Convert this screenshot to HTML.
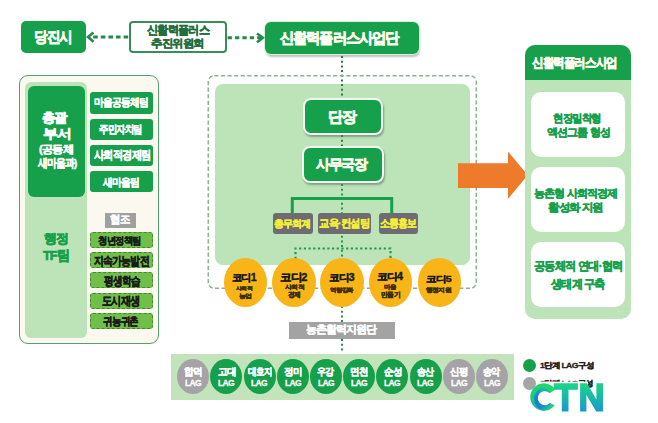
<!DOCTYPE html>
<html><head><meta charset="utf-8">
<style>
*{margin:0;padding:0;box-sizing:border-box}
html,body{width:658px;height:423px;overflow:hidden;background:#fff}
body{position:relative;font-family:"Liberation Sans",sans-serif}
.a{position:absolute}
</style></head><body>
<div class="a" style="left:21px;top:21px;width:64.5px;height:32px;border-radius:5px;background:#16a04b"></div>
<div class="a" style="left:128.5px;top:21.2px;width:98.3px;height:31.6px;border:2px solid #3a8d58;border-radius:4px;background:#fff"></div>
<div class="a" style="left:265px;top:22.3px;width:154px;height:31.5px;border-radius:6px;background:#16a04b;box-shadow:0 0 0 1px #d8f0dc,1px 3px 2px rgba(0,0,0,0.25)"></div>
<svg class="a" style="left:0;top:0" width="658" height="423">
  <line x1="93.2" y1="37" x2="128.5" y2="37" stroke="#238a4c" stroke-width="3" stroke-dasharray="4.6 3"/>
  <polyline points="93.5,32.5 88,37 93.5,41.8" fill="none" stroke="#238a4c" stroke-width="2.6"/>
  <line x1="227.6" y1="37.8" x2="262" y2="37.8" stroke="#238a4c" stroke-width="3" stroke-dasharray="4.3 3.1"/>
  <polyline points="257,33.5 262.8,37.8 257,42.3" fill="none" stroke="#238a4c" stroke-width="2.6"/>
  <line x1="342" y1="56" x2="342" y2="98" stroke="#2f6f4f" stroke-width="2" stroke-dasharray="2 2.7"/>
</svg>
<div class="a" style="left:18.5px;top:74.5px;width:140.8px;height:269px;border:1.5px solid #52a06a;border-radius:9px;background:#faf8ef"></div>
<div class="a" style="left:25px;top:82px;width:62px;height:256px;border-radius:6px;background:#bde3b8"></div>
<div class="a" style="left:28px;top:86px;width:57px;height:111px;border-radius:6px;background:#16a04b"></div>
<div class="a" style="left:90px;top:92.3px;width:62.5px;height:21.5px;border-radius:3px;background:#16a04b"></div>
<div class="a" style="left:90px;top:119px;width:62.5px;height:20.8px;border-radius:3px;background:#16a04b"></div>
<div class="a" style="left:90px;top:144.5px;width:62.5px;height:21.3px;border-radius:3px;background:#16a04b"></div>
<div class="a" style="left:90px;top:171px;width:62.5px;height:20.8px;border-radius:3px;background:#16a04b"></div>
<div class="a" style="left:104.6px;top:212.6px;width:31.3px;height:15.2px;background:#a0a0a0"></div>
<div class="a" style="left:89.5px;top:232.2px;width:63px;height:15.8px;border:1px dashed #3f8a2c;border-radius:3px;background:#70bf4a"></div>
<div class="a" style="left:89.5px;top:252.2px;width:63px;height:15.8px;border:1px dashed #3f8a2c;border-radius:3px;background:#70bf4a"></div>
<div class="a" style="left:89.5px;top:272.4px;width:63px;height:15.8px;border:1px dashed #3f8a2c;border-radius:3px;background:#70bf4a"></div>
<div class="a" style="left:89.5px;top:292.8px;width:63px;height:15.8px;border:1px dashed #3f8a2c;border-radius:3px;background:#70bf4a"></div>
<div class="a" style="left:89.5px;top:313.2px;width:63px;height:15.8px;border:1px dashed #3f8a2c;border-radius:3px;background:#70bf4a"></div>
<svg class="a" style="left:0;top:0" width="658" height="423"><rect x="208.3" y="75.8" width="268" height="212.5" rx="6" fill="none" stroke="#8db492" stroke-width="1.6" stroke-dasharray="4.2 2.4"/></svg>
<div class="a" style="left:214.5px;top:84px;width:255.5px;height:181px;border-radius:8px;background:#bde3b8"></div>
<div class="a" style="left:302.5px;top:98px;width:80.5px;height:36.5px;border:2.3px solid #f4fbf2;border-radius:8px;background:#16a04b;box-shadow:1px 2px 2px rgba(0,0,0,0.3)"></div>
<div class="a" style="left:301.6px;top:145.7px;width:82px;height:37.3px;border:2.3px solid #f4fbf2;border-radius:8px;background:#16a04b;box-shadow:1px 2px 2px rgba(0,0,0,0.3)"></div>
<svg class="a" style="left:0;top:0" width="658" height="423">
  <line x1="342" y1="84" x2="342" y2="98" stroke="#2f7a4f" stroke-width="2" stroke-dasharray="2 2.7"/>
  <line x1="342" y1="135" x2="342" y2="146" stroke="#2f7a4f" stroke-width="2" stroke-dasharray="2 2.7"/>
  <line x1="342" y1="184" x2="342" y2="258" stroke="#1e9a48" stroke-width="2" stroke-dasharray="2 2.7"/>
  <polyline points="292.3,213 292.3,198.5 391.7,198.5 391.7,213" fill="none" stroke="#16a04b" stroke-width="3"/>
  <polyline points="295.5,259 295.5,248.5 390.5,248.5 390.5,259" fill="none" stroke="#1e9a48" stroke-width="2.2" stroke-dasharray="2.2 2.5"/>
  <line x1="342" y1="306" x2="342" y2="322" stroke="#2e8a5a" stroke-width="2" stroke-dasharray="2 2.7"/>
  <line x1="342" y1="339" x2="342" y2="353" stroke="#2e8a5a" stroke-width="2" stroke-dasharray="2 2.7"/>
</svg>
<div class="a" style="left:273.3px;top:213.4px;width:39.7px;height:20.5px;background:#6f6b72;border-radius:3px"></div>
<div class="a" style="left:318.2px;top:213.4px;width:52.6px;height:20.5px;background:#6f6b72;border-radius:3px"></div>
<div class="a" style="left:378.5px;top:213.4px;width:39.4px;height:20.5px;background:#6f6b72;border-radius:3px"></div>
<div class="a" style="left:224.2px;top:257.8px;width:43.0px;height:48.9px;border-radius:50%;background:#f9b417"></div>
<div class="a" style="left:272px;top:257.8px;width:43.8px;height:48.9px;border-radius:50%;background:#f9b417"></div>
<div class="a" style="left:320.2px;top:257.8px;width:44.1px;height:48.9px;border-radius:50%;background:#f9b417"></div>
<div class="a" style="left:369.1px;top:257.8px;width:43.4px;height:48.9px;border-radius:50%;background:#f9b417"></div>
<div class="a" style="left:417.5px;top:257.8px;width:43.7px;height:48.9px;border-radius:50%;background:#f9b417"></div>
<svg class="a" style="left:0;top:0" width="658" height="423">
  <polygon points="458,163.2 508,163.2 508,151.6 527.8,175.2 508,198.8 508,188 458,188" fill="#ee7b2c"/>
</svg>
<div class="a" style="left:525px;top:45px;width:105.7px;height:274px;border-radius:10px;overflow:hidden;background:#bde3b8"><div style="height:35px;background:#16a04b"></div></div>
<div class="a" style="left:530.5px;top:92px;width:94px;height:65.4px;background:#fff;border-radius:10px"></div>
<div class="a" style="left:530.5px;top:167.3px;width:94px;height:64.4px;background:#fff;border-radius:10px"></div>
<div class="a" style="left:530.5px;top:242px;width:94px;height:65.0px;background:#fff;border-radius:10px"></div>
<div class="a" style="left:289.4px;top:321.7px;width:106px;height:17px;background:#a3a3a3"></div>
<div class="a" style="left:170.8px;top:353.5px;width:343.7px;height:46.5px;background:#c3e4bb"></div>
<div class="a" style="left:177.2px;top:359.3px;width:32px;height:35px;border-radius:50%;background:#a5a3a7"></div>
<div class="a" style="left:210.4px;top:359.3px;width:32px;height:35px;border-radius:50%;background:#16a04b"></div>
<div class="a" style="left:243.6px;top:359.3px;width:32px;height:35px;border-radius:50%;background:#16a04b"></div>
<div class="a" style="left:276.8px;top:359.3px;width:32px;height:35px;border-radius:50%;background:#16a04b"></div>
<div class="a" style="left:310.0px;top:359.3px;width:32px;height:35px;border-radius:50%;background:#16a04b"></div>
<div class="a" style="left:343.2px;top:359.3px;width:32px;height:35px;border-radius:50%;background:#16a04b"></div>
<div class="a" style="left:376.4px;top:359.3px;width:32px;height:35px;border-radius:50%;background:#16a04b"></div>
<div class="a" style="left:409.6px;top:359.3px;width:32px;height:35px;border-radius:50%;background:#16a04b"></div>
<div class="a" style="left:442.8px;top:359.3px;width:32px;height:35px;border-radius:50%;background:#a5a3a7"></div>
<div class="a" style="left:476.0px;top:359.3px;width:32px;height:35px;border-radius:50%;background:#a5a3a7"></div>
<div class="a" style="left:522.8px;top:359.2px;width:13px;height:13px;border-radius:50%;background:#16a04b"></div>
<div class="a" style="left:522.8px;top:377.4px;width:13px;height:13px;border-radius:50%;background:#a5a5a5"></div>
<div style="position:absolute;white-space:nowrap;font-family:'Liberation Sans',sans-serif;font-weight:bold;font-size:14.845px;line-height:1;-webkit-text-stroke:0.72px currentColor;letter-spacing:-0.08em;transform-origin:0 0;transform:scaleX(0.9075);left:33.92px;top:30.41px;color:#fdfdf0">당진시</div>
<div style="position:absolute;white-space:nowrap;font-family:'Liberation Sans',sans-serif;font-weight:bold;font-size:11.667px;line-height:1;-webkit-text-stroke:0.448px currentColor;letter-spacing:-0.08em;transform-origin:0 0;transform:scaleX(0.9324);left:147.30px;top:24.38px;color:#256d3e">신활력플러스</div>
<div style="position:absolute;white-space:nowrap;font-family:'Liberation Sans',sans-serif;font-weight:bold;font-size:11.146px;line-height:1;-webkit-text-stroke:0.428px currentColor;letter-spacing:-0.08em;transform-origin:0 0;transform:scaleX(1.0392);left:151.18px;top:37.62px;color:#256d3e">추진위원회</div>
<div style="position:absolute;white-space:nowrap;font-family:'Liberation Sans',sans-serif;font-weight:bold;font-size:15.408px;line-height:1;-webkit-text-stroke:0.755px currentColor;letter-spacing:-0.08em;transform-origin:0 0;transform:scaleX(0.9541);left:280.45px;top:30.38px;color:#fdfdf0">신활력플러스사업단</div>
<div style="position:absolute;white-space:nowrap;font-family:'Liberation Sans',sans-serif;font-weight:bold;font-size:13.469px;line-height:1;-webkit-text-stroke:0.66px currentColor;letter-spacing:-0.08em;transform-origin:0 0;transform:scaleX(1.0301);left:42.28px;top:111.49px;color:#fff">총괄</div>
<div style="position:absolute;white-space:nowrap;font-family:'Liberation Sans',sans-serif;font-weight:bold;font-size:12.577px;line-height:1;-webkit-text-stroke:0.61px currentColor;letter-spacing:-0.08em;transform-origin:0 0;transform:scaleX(1.1480);left:43.07px;top:127.65px;color:#fff">부서</div>
<div style="position:absolute;white-space:nowrap;font-family:'Liberation Sans',sans-serif;font-weight:bold;font-size:11.287px;line-height:1;-webkit-text-stroke:0.456px currentColor;letter-spacing:-0.08em;transform-origin:0 0;transform:scaleX(1.0211);left:38.65px;top:143.61px;color:#fff">(공동체</div>
<div style="position:absolute;white-space:nowrap;font-family:'Liberation Sans',sans-serif;font-weight:bold;font-size:11.782px;line-height:1;-webkit-text-stroke:0.476px currentColor;letter-spacing:-0.08em;transform-origin:0 0;transform:scaleX(0.8150);left:37.98px;top:156.88px;color:#fff">새마을과)</div>
<div style="position:absolute;white-space:nowrap;font-family:'Liberation Sans',sans-serif;font-weight:bold;font-size:13.093px;line-height:1;-webkit-text-stroke:0.635px currentColor;letter-spacing:-0.08em;transform-origin:0 0;transform:scaleX(0.9985);left:43.54px;top:231.91px;color:#16a04b">행정</div>
<div style="position:absolute;white-space:nowrap;font-family:'Liberation Sans',sans-serif;font-weight:bold;font-size:13.571px;line-height:1;-webkit-text-stroke:0.665px currentColor;letter-spacing:-0.08em;transform-origin:0 0;transform:scaleX(0.9398);left:43.43px;top:249.19px;color:#16a04b">TF팀</div>
<div style="position:absolute;white-space:nowrap;font-family:'Liberation Sans',sans-serif;font-weight:bold;font-size:11.146px;line-height:1;-webkit-text-stroke:0.428px currentColor;letter-spacing:-0.08em;transform-origin:0 0;transform:scaleX(0.8856);left:93.91px;top:97.42px;color:#fff">마을공동체팀</div>
<div style="position:absolute;white-space:nowrap;font-family:'Liberation Sans',sans-serif;font-weight:bold;font-size:11.458px;line-height:1;-webkit-text-stroke:0.44px currentColor;letter-spacing:-0.08em;transform-origin:0 0;transform:scaleX(0.8497);left:99.31px;top:124.20px;color:#fff">주민자치팀</div>
<div style="position:absolute;white-space:nowrap;font-family:'Liberation Sans',sans-serif;font-weight:bold;font-size:11.667px;line-height:1;-webkit-text-stroke:0.448px currentColor;letter-spacing:-0.08em;transform-origin:0 0;transform:scaleX(0.8556);left:93.50px;top:149.28px;color:#fff">사회적경제팀</div>
<div style="position:absolute;white-space:nowrap;font-family:'Liberation Sans',sans-serif;font-weight:bold;font-size:11.042px;line-height:1;-webkit-text-stroke:0.424px currentColor;letter-spacing:-0.08em;transform-origin:0 0;transform:scaleX(0.8885);left:103.29px;top:176.63px;color:#fff">새마을팀</div>
<div style="position:absolute;white-space:nowrap;font-family:'Liberation Sans',sans-serif;font-weight:bold;font-size:11.354px;line-height:1;-webkit-text-stroke:0.436px currentColor;letter-spacing:-0.08em;transform-origin:0 0;transform:scaleX(0.9477);left:109.57px;top:213.91px;color:#fff">협조</div>
<div style="position:absolute;white-space:nowrap;font-family:'Liberation Sans',sans-serif;font-weight:bold;font-size:10.417px;line-height:1;-webkit-text-stroke:0.4px currentColor;letter-spacing:-0.08em;transform-origin:0 0;transform:scaleX(0.9368);left:97.90px;top:236.07px;color:#1a1a1a">청년정책팀</div>
<div style="position:absolute;white-space:nowrap;font-family:'Liberation Sans',sans-serif;font-weight:bold;font-size:11.667px;line-height:1;-webkit-text-stroke:0.448px currentColor;letter-spacing:-0.08em;transform-origin:0 0;transform:scaleX(0.8229);left:94.00px;top:254.78px;color:#1a1a1a">지속가능발전</div>
<div style="position:absolute;white-space:nowrap;font-family:'Liberation Sans',sans-serif;font-weight:bold;font-size:11.771px;line-height:1;-webkit-text-stroke:0.452px currentColor;letter-spacing:-0.08em;transform-origin:0 0;transform:scaleX(0.7994);left:103.59px;top:274.78px;color:#1a1a1a">평생학습</div>
<div style="position:absolute;white-space:nowrap;font-family:'Liberation Sans',sans-serif;font-weight:bold;font-size:11.979px;line-height:1;-webkit-text-stroke:0.46px currentColor;letter-spacing:-0.08em;transform-origin:0 0;transform:scaleX(0.8510);left:101.89px;top:295.36px;color:#1a1a1a">도시재생</div>
<div style="position:absolute;white-space:nowrap;font-family:'Liberation Sans',sans-serif;font-weight:bold;font-size:11.031px;line-height:1;-webkit-text-stroke:0.428px currentColor;letter-spacing:-0.08em;transform-origin:0 0;transform:scaleX(0.8722);left:102.81px;top:316.34px;color:#1a1a1a">귀농귀촌</div>
<div style="position:absolute;white-space:nowrap;font-family:'Liberation Sans',sans-serif;font-weight:bold;font-size:15.361px;line-height:1;-webkit-text-stroke:0.745px currentColor;letter-spacing:-0.08em;transform-origin:0 0;transform:scaleX(0.9905);left:327.63px;top:108.98px;color:#fdfbe8">단장</div>
<div style="position:absolute;white-space:nowrap;font-family:'Liberation Sans',sans-serif;font-weight:bold;font-size:14.490px;line-height:1;-webkit-text-stroke:0.71px currentColor;letter-spacing:-0.08em;transform-origin:0 0;transform:scaleX(0.9924);left:315.59px;top:156.93px;color:#fdfbe8">사무국장</div>
<div style="position:absolute;white-space:nowrap;font-family:'Liberation Sans',sans-serif;font-weight:bold;font-size:10.206px;line-height:1;-webkit-text-stroke:0.396px currentColor;letter-spacing:-0.08em;transform-origin:0 0;transform:scaleX(0.9907);left:273.60px;top:219.19px;color:#f4ee3a">총무회계</div>
<div style="position:absolute;white-space:nowrap;font-family:'Liberation Sans',sans-serif;font-weight:bold;font-size:10.729px;line-height:1;-webkit-text-stroke:0.412px currentColor;letter-spacing:-0.08em;transform-origin:0 0;transform:scaleX(0.9398);left:319.40px;top:218.45px;color:#f4ee3a">교육·컨설팅</div>
<div style="position:absolute;white-space:nowrap;font-family:'Liberation Sans',sans-serif;font-weight:bold;font-size:10.729px;line-height:1;-webkit-text-stroke:0.412px currentColor;letter-spacing:-0.08em;transform-origin:0 0;transform:scaleX(0.8993);left:379.91px;top:218.45px;color:#f4ee3a">소통홍보</div>
<div style="position:absolute;white-space:nowrap;font-family:'Liberation Sans',sans-serif;font-weight:bold;font-size:10.312px;line-height:1;-webkit-text-stroke:0.396px currentColor;letter-spacing:-0.08em;transform-origin:0 0;transform:scaleX(1.0275);left:232.28px;top:273.38px;color:#1a1a1a">코디1</div>
<div style="position:absolute;white-space:nowrap;font-family:'Liberation Sans',sans-serif;font-weight:bold;font-size:5.200px;line-height:1;-webkit-text-stroke:0.364px currentColor;letter-spacing:-0.08em;transform-origin:0 0;transform:scaleX(1.1802);left:236.48px;top:285.94px;color:#3a3008">사회적</div>
<div style="position:absolute;white-space:nowrap;font-family:'Liberation Sans',sans-serif;font-weight:bold;font-size:5.700px;line-height:1;-webkit-text-stroke:0.399px currentColor;letter-spacing:-0.08em;transform-origin:0 0;transform:scaleX(1.1696);left:238.87px;top:294.41px;color:#3a3008">농업</div>
<div style="position:absolute;white-space:nowrap;font-family:'Liberation Sans',sans-serif;font-weight:bold;font-size:10.521px;line-height:1;-webkit-text-stroke:0.404px currentColor;letter-spacing:-0.08em;transform-origin:0 0;transform:scaleX(1.0520);left:280.26px;top:271.96px;color:#1a1a1a">코디2</div>
<div style="position:absolute;white-space:nowrap;font-family:'Liberation Sans',sans-serif;font-weight:bold;font-size:5.600px;line-height:1;-webkit-text-stroke:0.392px currentColor;letter-spacing:-0.08em;transform-origin:0 0;transform:scaleX(1.1475);left:284.99px;top:285.12px;color:#3a3008">사회적</div>
<div style="position:absolute;white-space:nowrap;font-family:'Liberation Sans',sans-serif;font-weight:bold;font-size:6.667px;line-height:1;-webkit-text-stroke:0.462px currentColor;letter-spacing:-0.08em;transform-origin:0 0;transform:scaleX(0.9590);left:287.80px;top:292.17px;color:#3a3008">경제</div>
<div style="position:absolute;white-space:nowrap;font-family:'Liberation Sans',sans-serif;font-weight:bold;font-size:10.417px;line-height:1;-webkit-text-stroke:0.4px currentColor;letter-spacing:-0.08em;transform-origin:0 0;transform:scaleX(1.0585);left:328.56px;top:272.97px;color:#1a1a1a">코디3</div>
<div style="position:absolute;white-space:nowrap;font-family:'Liberation Sans',sans-serif;font-weight:bold;font-size:6.000px;line-height:1;-webkit-text-stroke:0.42px currentColor;letter-spacing:-0.08em;transform-origin:0 0;transform:scaleX(1.0550);left:330.01px;top:286.90px;color:#3a3008">역량강화</div>
<div style="position:absolute;white-space:nowrap;font-family:'Liberation Sans',sans-serif;font-weight:bold;font-size:10.417px;line-height:1;-webkit-text-stroke:0.4px currentColor;letter-spacing:-0.08em;transform-origin:0 0;transform:scaleX(1.0815);left:377.05px;top:272.27px;color:#1a1a1a">코디4</div>
<div style="position:absolute;white-space:nowrap;font-family:'Liberation Sans',sans-serif;font-weight:bold;font-size:6.162px;line-height:1;-webkit-text-stroke:0.427px currentColor;letter-spacing:-0.08em;transform-origin:0 0;transform:scaleX(1.0645);left:383.74px;top:284.49px;color:#3a3008">마을</div>
<div style="position:absolute;white-space:nowrap;font-family:'Liberation Sans',sans-serif;font-weight:bold;font-size:7.172px;line-height:1;-webkit-text-stroke:0.497px currentColor;letter-spacing:-0.08em;transform-origin:0 0;transform:scaleX(0.9729);left:380.58px;top:291.74px;color:#3a3008">만들기</div>
<div style="position:absolute;white-space:nowrap;font-family:'Liberation Sans',sans-serif;font-weight:bold;font-size:9.479px;line-height:1;-webkit-text-stroke:0.364px currentColor;letter-spacing:-0.08em;transform-origin:0 0;transform:scaleX(1.1806);left:426.05px;top:273.54px;color:#1a1a1a">코디5</div>
<div style="position:absolute;white-space:nowrap;font-family:'Liberation Sans',sans-serif;font-weight:bold;font-size:6.465px;line-height:1;-webkit-text-stroke:0.448px currentColor;letter-spacing:-0.08em;transform-origin:0 0;transform:scaleX(1.1349);left:425.73px;top:287.18px;color:#3a3008">행정지원</div>
<div style="position:absolute;white-space:nowrap;font-family:'Liberation Sans',sans-serif;font-weight:bold;font-size:13.469px;line-height:1;-webkit-text-stroke:0.66px currentColor;letter-spacing:-0.08em;transform-origin:0 0;transform:scaleX(0.8881);left:532.32px;top:56.29px;color:#fdfdf0">신활력플러스사업</div>
<div style="position:absolute;white-space:nowrap;font-family:'Liberation Sans',sans-serif;font-weight:bold;font-size:11.458px;line-height:1;-webkit-text-stroke:0.44px currentColor;letter-spacing:-0.08em;transform-origin:0 0;transform:scaleX(0.9461);left:553.16px;top:112.50px;color:#16a04b">현장밀착형</div>
<div style="position:absolute;white-space:nowrap;font-family:'Liberation Sans',sans-serif;font-weight:bold;font-size:11.458px;line-height:1;-webkit-text-stroke:0.44px currentColor;letter-spacing:-0.08em;transform-origin:0 0;transform:scaleX(1.0038);left:546.55px;top:126.90px;color:#16a04b">액션그룹 형성</div>
<div style="position:absolute;white-space:nowrap;font-family:'Liberation Sans',sans-serif;font-weight:bold;font-size:11.224px;line-height:1;-webkit-text-stroke:0.44px currentColor;letter-spacing:-0.08em;transform-origin:0 0;transform:scaleX(1.0063);left:533.75px;top:188.03px;color:#16a04b">농촌형 사회적경제</div>
<div style="position:absolute;white-space:nowrap;font-family:'Liberation Sans',sans-serif;font-weight:bold;font-size:11.458px;line-height:1;-webkit-text-stroke:0.44px currentColor;letter-spacing:-0.08em;transform-origin:0 0;transform:scaleX(1.0444);left:547.66px;top:202.30px;color:#16a04b">활성화 지원</div>
<div style="position:absolute;white-space:nowrap;font-family:'Liberation Sans',sans-serif;font-weight:bold;font-size:11.875px;line-height:1;-webkit-text-stroke:0.456px currentColor;letter-spacing:-0.08em;transform-origin:0 0;transform:scaleX(0.9434);left:533.65px;top:261.37px;color:#16a04b">공동체적 연대·협력</div>
<div style="position:absolute;white-space:nowrap;font-family:'Liberation Sans',sans-serif;font-weight:bold;font-size:11.700px;line-height:1;-webkit-text-stroke:0.468px currentColor;letter-spacing:-0.08em;transform-origin:0 0;transform:scaleX(0.9318);left:551.24px;top:277.63px;color:#16a04b">생태계 구축</div>
<div style="position:absolute;white-space:nowrap;font-family:'Liberation Sans',sans-serif;font-weight:bold;font-size:10.918px;line-height:1;-webkit-text-stroke:0.428px currentColor;letter-spacing:-0.08em;transform-origin:0 0;transform:scaleX(0.9949);left:306.07px;top:323.94px;color:#fff">농촌활력지원단</div>
<div style="position:absolute;white-space:nowrap;font-family:'Liberation Sans',sans-serif;font-weight:bold;font-size:10.000px;line-height:1;-webkit-text-stroke:0.384px currentColor;letter-spacing:-0.08em;transform-origin:0 0;transform:scaleX(0.9659);left:184.31px;top:366.60px;color:#fff">합덕</div>
<div style="position:absolute;white-space:nowrap;font-family:'Liberation Sans',sans-serif;font-weight:bold;font-size:8.767px;line-height:1;-webkit-text-stroke:0.256px currentColor;letter-spacing:-0.08em;transform-origin:0 0;transform:scaleX(0.9680);left:184.93px;top:379.07px;color:#fff">LAG</div>
<div style="position:absolute;white-space:nowrap;font-family:'Liberation Sans',sans-serif;font-weight:bold;font-size:10.000px;line-height:1;-webkit-text-stroke:0.384px currentColor;letter-spacing:-0.08em;transform-origin:0 0;transform:scaleX(0.9605);left:217.52px;top:366.60px;color:#fff">고대</div>
<div style="position:absolute;white-space:nowrap;font-family:'Liberation Sans',sans-serif;font-weight:bold;font-size:8.767px;line-height:1;-webkit-text-stroke:0.256px currentColor;letter-spacing:-0.08em;transform-origin:0 0;transform:scaleX(0.9680);left:218.13px;top:379.07px;color:#fff">LAG</div>
<div style="position:absolute;white-space:nowrap;font-family:'Liberation Sans',sans-serif;font-weight:bold;font-size:10.000px;line-height:1;-webkit-text-stroke:0.384px currentColor;letter-spacing:-0.08em;transform-origin:0 0;transform:scaleX(0.8519);left:247.93px;top:366.60px;color:#fff">대호지</div>
<div style="position:absolute;white-space:nowrap;font-family:'Liberation Sans',sans-serif;font-weight:bold;font-size:8.767px;line-height:1;-webkit-text-stroke:0.256px currentColor;letter-spacing:-0.08em;transform-origin:0 0;transform:scaleX(0.9680);left:251.33px;top:379.07px;color:#fff">LAG</div>
<div style="position:absolute;white-space:nowrap;font-family:'Liberation Sans',sans-serif;font-weight:bold;font-size:10.000px;line-height:1;-webkit-text-stroke:0.384px currentColor;letter-spacing:-0.08em;transform-origin:0 0;transform:scaleX(0.9497);left:284.21px;top:366.60px;color:#fff">정미</div>
<div style="position:absolute;white-space:nowrap;font-family:'Liberation Sans',sans-serif;font-weight:bold;font-size:8.767px;line-height:1;-webkit-text-stroke:0.256px currentColor;letter-spacing:-0.08em;transform-origin:0 0;transform:scaleX(0.9680);left:284.53px;top:379.07px;color:#fff">LAG</div>
<div style="position:absolute;white-space:nowrap;font-family:'Liberation Sans',sans-serif;font-weight:bold;font-size:10.000px;line-height:1;-webkit-text-stroke:0.384px currentColor;letter-spacing:-0.08em;transform-origin:0 0;transform:scaleX(0.8995);left:317.14px;top:366.60px;color:#fff">우강</div>
<div style="position:absolute;white-space:nowrap;font-family:'Liberation Sans',sans-serif;font-weight:bold;font-size:8.767px;line-height:1;-webkit-text-stroke:0.256px currentColor;letter-spacing:-0.08em;transform-origin:0 0;transform:scaleX(0.9680);left:317.73px;top:379.07px;color:#fff">LAG</div>
<div style="position:absolute;white-space:nowrap;font-family:'Liberation Sans',sans-serif;font-weight:bold;font-size:10.323px;line-height:1;-webkit-text-stroke:0.384px currentColor;letter-spacing:-0.08em;transform-origin:0 0;transform:scaleX(0.9465);left:349.82px;top:366.58px;color:#fff">면천</div>
<div style="position:absolute;white-space:nowrap;font-family:'Liberation Sans',sans-serif;font-weight:bold;font-size:8.767px;line-height:1;-webkit-text-stroke:0.256px currentColor;letter-spacing:-0.08em;transform-origin:0 0;transform:scaleX(0.9680);left:350.93px;top:379.07px;color:#fff">LAG</div>
<div style="position:absolute;white-space:nowrap;font-family:'Liberation Sans',sans-serif;font-weight:bold;font-size:10.000px;line-height:1;-webkit-text-stroke:0.384px currentColor;letter-spacing:-0.08em;transform-origin:0 0;transform:scaleX(0.9605);left:383.52px;top:366.60px;color:#fff">순성</div>
<div style="position:absolute;white-space:nowrap;font-family:'Liberation Sans',sans-serif;font-weight:bold;font-size:8.767px;line-height:1;-webkit-text-stroke:0.256px currentColor;letter-spacing:-0.08em;transform-origin:0 0;transform:scaleX(0.9680);left:384.13px;top:379.07px;color:#fff">LAG</div>
<div style="position:absolute;white-space:nowrap;font-family:'Liberation Sans',sans-serif;font-weight:bold;font-size:10.000px;line-height:1;-webkit-text-stroke:0.384px currentColor;letter-spacing:-0.08em;transform-origin:0 0;transform:scaleX(0.8995);left:416.74px;top:366.60px;color:#fff">송산</div>
<div style="position:absolute;white-space:nowrap;font-family:'Liberation Sans',sans-serif;font-weight:bold;font-size:8.767px;line-height:1;-webkit-text-stroke:0.256px currentColor;letter-spacing:-0.08em;transform-origin:0 0;transform:scaleX(0.9680);left:417.33px;top:379.07px;color:#fff">LAG</div>
<div style="position:absolute;white-space:nowrap;font-family:'Liberation Sans',sans-serif;font-weight:bold;font-size:10.000px;line-height:1;-webkit-text-stroke:0.384px currentColor;letter-spacing:-0.08em;transform-origin:0 0;transform:scaleX(0.9392);left:450.30px;top:366.60px;color:#fff">신평</div>
<div style="position:absolute;white-space:nowrap;font-family:'Liberation Sans',sans-serif;font-weight:bold;font-size:8.767px;line-height:1;-webkit-text-stroke:0.256px currentColor;letter-spacing:-0.08em;transform-origin:0 0;transform:scaleX(0.9680);left:450.53px;top:379.07px;color:#fff">LAG</div>
<div style="position:absolute;white-space:nowrap;font-family:'Liberation Sans',sans-serif;font-weight:bold;font-size:10.000px;line-height:1;-webkit-text-stroke:0.384px currentColor;letter-spacing:-0.08em;transform-origin:0 0;transform:scaleX(0.8995);left:483.14px;top:366.60px;color:#fff">송악</div>
<div style="position:absolute;white-space:nowrap;font-family:'Liberation Sans',sans-serif;font-weight:bold;font-size:8.767px;line-height:1;-webkit-text-stroke:0.256px currentColor;letter-spacing:-0.08em;transform-origin:0 0;transform:scaleX(0.9680);left:483.73px;top:379.07px;color:#fff">LAG</div>
<div style="position:absolute;white-space:nowrap;font-family:'Liberation Sans',sans-serif;font-weight:bold;font-size:8.125px;line-height:1;-webkit-text-stroke:0.312px currentColor;letter-spacing:-0.08em;transform-origin:0 0;transform:scaleX(1.0667);left:540.15px;top:362.13px;color:#222">1단계 LAG구성</div>
<div style="position:absolute;white-space:nowrap;font-family:'Liberation Sans',sans-serif;font-weight:bold;font-size:8.125px;line-height:1;-webkit-text-stroke:0.312px currentColor;letter-spacing:-0.08em;transform-origin:0 0;transform:scaleX(1.0632);left:540.33px;top:380.13px;color:#222">2단계 LAG구성</div>
<svg class="a" style="left:0;top:0" width="658" height="423">
  <rect x="538" y="381.6" width="50" height="14" fill="#fff"/>
  <defs>
    <linearGradient id="gt" x1="0" y1="383" x2="0" y2="412" gradientUnits="userSpaceOnUse">
      <stop offset="0" stop-color="#1bd685"/><stop offset="1" stop-color="#1897d2"/>
    </linearGradient>
    <linearGradient id="gc" x1="556" y1="383" x2="532" y2="411" gradientUnits="userSpaceOnUse">
      <stop offset="0" stop-color="#22dc68"/><stop offset="0.6" stop-color="#1ccf7a"/><stop offset="1" stop-color="#17b3a0"/>
    </linearGradient>
    <radialGradient id="gb" cx="537" cy="401" r="12" gradientUnits="userSpaceOnUse">
      <stop offset="0" stop-color="#1a78dc"/><stop offset="0.6" stop-color="#1a88d6"/><stop offset="1" stop-color="#1ab0b8"/>
    </radialGradient>
    <clipPath id="cc">
      <path d="M555.2,389.7 A13.5,13.8 0 1 0 554.7,405.2 L549.9,402.9 A7,7.15 0 1 1 549.7,393.1 Z"/>
    </clipPath>
  </defs>
  <g clip-path="url(#cc)">
    <rect x="528" y="380" width="32" height="34" fill="url(#gc)"/>
    <ellipse cx="543" cy="399" rx="8.8" ry="10.8" fill="url(#gb)"/>
  </g>
  <path d="M553.8,383.2 H577.9 V389.8 H568.5 V411.6 H561.8 V389.8 H553.8 Z" fill="url(#gt)"/>
  <path d="M580.1,383.2 H587 L596.4,399.5 V383.2 H603 V411.6 H596.2 L586.4,395 V411.6 H580.1 Z" fill="url(#gt)"/>
</svg>
</body></html>
